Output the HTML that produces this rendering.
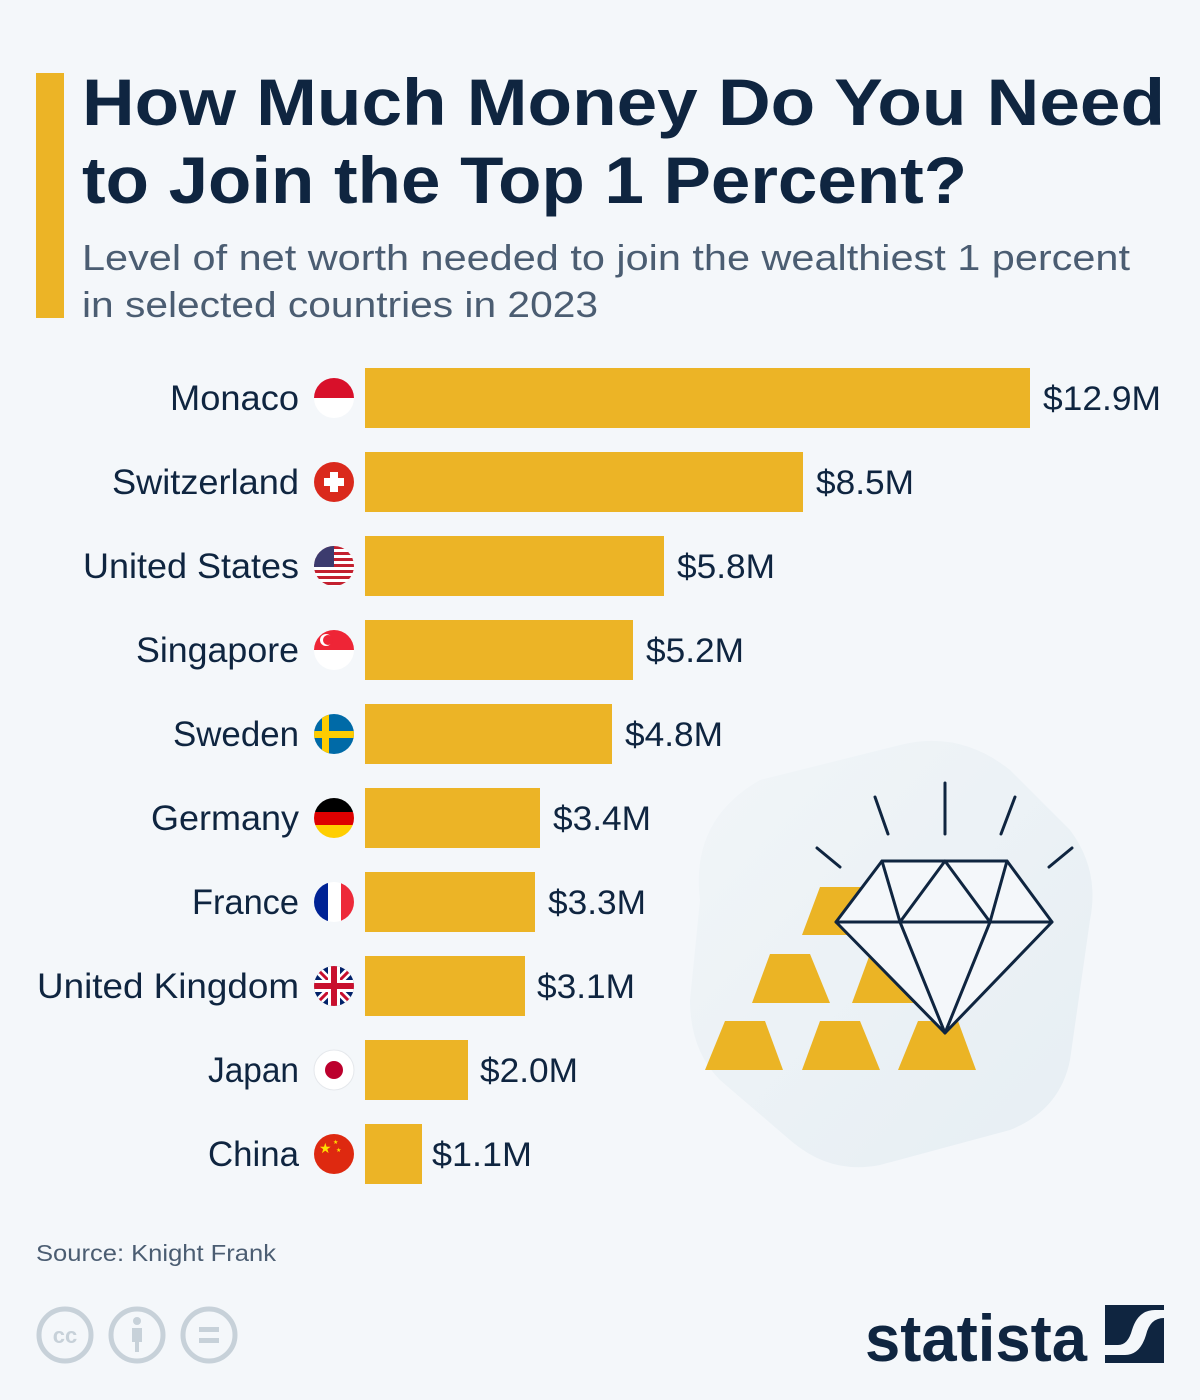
<!DOCTYPE html>
<html><head><meta charset="utf-8"><style>
html,body{margin:0;padding:0;background:#f4f7fa}
svg{display:block}
text{font-family:"Liberation Sans",sans-serif}
</style></head><body>
<svg width="1200" height="1400" viewBox="0 0 1200 1400" xmlns="http://www.w3.org/2000/svg">
<defs>
<linearGradient id="bg" x1="0" y1="0" x2="1" y2="1"><stop offset="0" stop-color="#f1f5f8"/><stop offset="1" stop-color="#e6eef3"/></linearGradient>
<clipPath id="c1"><circle cx="334" cy="398" r="20"/></clipPath>
<clipPath id="c3"><circle cx="334" cy="566" r="20"/></clipPath>
<clipPath id="c4"><circle cx="334" cy="650" r="20"/></clipPath>
<clipPath id="c5"><circle cx="334" cy="734" r="20"/></clipPath>
<clipPath id="c6"><circle cx="334" cy="818" r="20"/></clipPath>
<clipPath id="c7"><circle cx="334" cy="902" r="20"/></clipPath>
<clipPath id="c8"><circle cx="334" cy="986" r="20"/></clipPath>
</defs>
<rect width="1200" height="1400" fill="#f4f7fa"/>
<rect x="36" y="73" width="28" height="245" fill="#ecb426"/>
<text x="82" y="125" font-size="66" font-weight="bold" fill="#0f2540" textLength="1083" lengthAdjust="spacingAndGlyphs">How Much Money Do You Need</text>
<text x="82" y="203" font-size="66" font-weight="bold" fill="#0f2540" textLength="885" lengthAdjust="spacingAndGlyphs">to Join the Top 1 Percent?</text>
<text x="82" y="270" font-size="36" fill="#4b5d72" textLength="1048" lengthAdjust="spacingAndGlyphs">Level of net worth needed to join the wealthiest 1 percent</text>
<text x="82" y="317" font-size="36" fill="#4b5d72" textLength="516" lengthAdjust="spacingAndGlyphs">in selected countries in 2023</text>

<path d="M700 900 Q690 820 760 780 L900 745 Q960 730 1010 770 L1070 830 Q1100 870 1090 920 L1070 1060 Q1060 1110 1010 1130 L880 1165 Q830 1175 790 1140 L720 1080 Q690 1050 690 1000 Z" fill="url(#bg)"/>
<g fill="#ebb425">
<polygon points="820,887 878,887 900,935 802,935"/>
<polygon points="770,954 810,954 830,1003 752,1003"/>
<polygon points="870,954 910,954 930,1003 852,1003"/>
<polygon points="725,1021 765,1021 783,1070 705,1070"/>
<polygon points="820,1021 860,1021 880,1070 802,1070"/>
<polygon points="918,1021 958,1021 976,1070 898,1070"/>
</g>
<g stroke="#0f2540" stroke-width="3" fill="#f4f7fa" stroke-linejoin="round" stroke-linecap="round">
<polygon points="882,861 1007,861 1052,922 945,1033 836,922"/>
<line x1="836" y1="922" x2="1052" y2="922"/>
<polyline points="882,861 900,922 945,1033 990,922 1007,861" fill="none"/>
<polyline points="900,922 945,861 990,922" fill="none"/>
<line x1="945" y1="783" x2="945" y2="834"/>
<line x1="875" y1="797" x2="888" y2="834"/>
<line x1="1015" y1="797" x2="1001" y2="834"/>
<line x1="817" y1="848" x2="840" y2="867"/>
<line x1="1072" y1="848" x2="1049" y2="867"/>
</g>

<g fill="#ecb426">
<rect x="365" y="368" width="665" height="60"/>
<rect x="365" y="452" width="438" height="60"/>
<rect x="365" y="536" width="299" height="60"/>
<rect x="365" y="620" width="268" height="60"/>
<rect x="365" y="704" width="247" height="60"/>
<rect x="365" y="788" width="175" height="60"/>
<rect x="365" y="872" width="170" height="60"/>
<rect x="365" y="956" width="160" height="60"/>
<rect x="365" y="1040" width="103" height="60"/>
<rect x="365" y="1124" width="57" height="60"/>
</g>
<g font-size="35" fill="#0f2540" lengthAdjust="spacingAndGlyphs">
<text x="170" y="410" textLength="129" lengthAdjust="spacingAndGlyphs">Monaco</text>
<text x="112" y="494" textLength="187" lengthAdjust="spacingAndGlyphs">Switzerland</text>
<text x="83" y="578" textLength="216" lengthAdjust="spacingAndGlyphs">United States</text>
<text x="136" y="662" textLength="163" lengthAdjust="spacingAndGlyphs">Singapore</text>
<text x="173" y="746" textLength="126" lengthAdjust="spacingAndGlyphs">Sweden</text>
<text x="151" y="830" textLength="148" lengthAdjust="spacingAndGlyphs">Germany</text>
<text x="192" y="914" textLength="107" lengthAdjust="spacingAndGlyphs">France</text>
<text x="37" y="998" textLength="262" lengthAdjust="spacingAndGlyphs">United Kingdom</text>
<text x="208" y="1082" textLength="91" lengthAdjust="spacingAndGlyphs">Japan</text>
<text x="208" y="1166" textLength="91" lengthAdjust="spacingAndGlyphs">China</text>
</g>
<g font-size="34" fill="#0f2540">
<text x="1043" y="410" textLength="118" lengthAdjust="spacingAndGlyphs">$12.9M</text>
<text x="816" y="494" textLength="98" lengthAdjust="spacingAndGlyphs">$8.5M</text>
<text x="677" y="578" textLength="98" lengthAdjust="spacingAndGlyphs">$5.8M</text>
<text x="646" y="662" textLength="98" lengthAdjust="spacingAndGlyphs">$5.2M</text>
<text x="625" y="746" textLength="98" lengthAdjust="spacingAndGlyphs">$4.8M</text>
<text x="553" y="830" textLength="98" lengthAdjust="spacingAndGlyphs">$3.4M</text>
<text x="548" y="914" textLength="98" lengthAdjust="spacingAndGlyphs">$3.3M</text>
<text x="537" y="998" textLength="98" lengthAdjust="spacingAndGlyphs">$3.1M</text>
<text x="480" y="1082" textLength="98" lengthAdjust="spacingAndGlyphs">$2.0M</text>
<text x="432" y="1166" textLength="100" lengthAdjust="spacingAndGlyphs">$1.1M</text>
</g>

<g clip-path="url(#c1)"><rect x="314" y="378" width="40" height="20" fill="#d8102a"/><rect x="314" y="398" width="40" height="20" fill="#fff"/></g>
<circle cx="334" cy="482" r="20" fill="#da291c"/><rect x="330" y="472" width="8" height="20" fill="#fff"/><rect x="324" y="478" width="20" height="8" fill="#fff"/>
<g clip-path="url(#c3)"><rect x="314" y="546" width="40" height="40" fill="#fff"/>
<g fill="#c3202f"><rect x="314" y="546" width="40" height="3"/><rect x="314" y="552" width="40" height="3"/><rect x="314" y="558" width="40" height="3"/><rect x="314" y="564" width="40" height="3"/><rect x="314" y="570" width="40" height="3"/><rect x="314" y="576" width="40" height="3"/><rect x="314" y="582" width="40" height="3"/></g>
<rect x="314" y="546" width="20" height="21" fill="#3c3b6e"/></g>
<g clip-path="url(#c4)"><rect x="314" y="630" width="40" height="20" fill="#ee2536"/><rect x="314" y="650" width="40" height="20" fill="#fff"/><circle cx="326" cy="640" r="6" fill="#fff"/><circle cx="328" cy="640" r="5" fill="#ee2536"/></g>
<g clip-path="url(#c5)"><rect x="314" y="714" width="40" height="40" fill="#006aa7"/><rect x="322" y="714" width="7" height="40" fill="#fecc00"/><rect x="314" y="731" width="40" height="7" fill="#fecc00"/></g>
<g clip-path="url(#c6)"><rect x="314" y="798" width="40" height="14" fill="#000"/><rect x="314" y="812" width="40" height="13" fill="#dd0000"/><rect x="314" y="825" width="40" height="14" fill="#ffce00"/></g>
<g clip-path="url(#c7)"><rect x="314" y="882" width="14" height="40" fill="#002395"/><rect x="328" y="882" width="13" height="40" fill="#fff"/><rect x="341" y="882" width="14" height="40" fill="#ed2939"/></g>
<g clip-path="url(#c8)"><rect x="314" y="966" width="40" height="40" fill="#012169"/><path d="M314 966 L354 1006 M354 966 L314 1006" stroke="#fff" stroke-width="8"/><path d="M314 966 L354 1006 M354 966 L314 1006" stroke="#c8102e" stroke-width="3"/><rect x="314" y="980" width="40" height="12" fill="#fff"/><rect x="328" y="966" width="12" height="40" fill="#fff"/><rect x="314" y="983" width="40" height="6" fill="#c8102e"/><rect x="331" y="966" width="6" height="40" fill="#c8102e"/></g>
<circle cx="334" cy="1070" r="20" fill="#fff" stroke="#e5e8ec" stroke-width="1"/><circle cx="334" cy="1070" r="9" fill="#bc002d"/>
<circle cx="334" cy="1154" r="20" fill="#de2910"/><text x="319" y="1153" font-size="14" fill="#ffde00">★</text><text x="333" y="1144" font-size="6" fill="#ffde00">★</text><text x="336" y="1152" font-size="6" fill="#ffde00">★</text>

<text x="36" y="1261" font-size="23" fill="#4b5d72" textLength="240" lengthAdjust="spacingAndGlyphs">Source: Knight Frank</text>

<g stroke="#c7d1d9" stroke-width="5" fill="none">
<circle cx="65" cy="1335" r="26"/><circle cx="137" cy="1335" r="26"/><circle cx="209" cy="1335" r="26"/>
</g>
<text x="65" y="1343" font-size="22" font-weight="bold" fill="#c7d1d9" text-anchor="middle">cc</text>
<circle cx="137" cy="1321" r="4" fill="#c7d1d9"/><rect x="132" y="1328" width="10" height="14" fill="#c7d1d9"/><rect x="135" y="1340" width="4" height="12" fill="#c7d1d9"/>
<rect x="199" y="1327" width="20" height="5" fill="#c7d1d9"/><rect x="199" y="1338" width="20" height="5" fill="#c7d1d9"/>

<text x="865" y="1361" font-size="66" font-weight="bold" fill="#0f2540" textLength="222" lengthAdjust="spacingAndGlyphs">statista</text>
<rect x="1105" y="1305" width="59" height="58" fill="#0f2540"/>
<path d="M1105 1345 L1118 1345 Q1128 1345 1132 1330 Q1138 1310 1155 1310 L1164 1310 L1164 1318 Q1150 1318 1146 1335 Q1140 1355 1125 1355 L1105 1355 Z" fill="#f4f7fa"/>
</svg>
</body></html>
